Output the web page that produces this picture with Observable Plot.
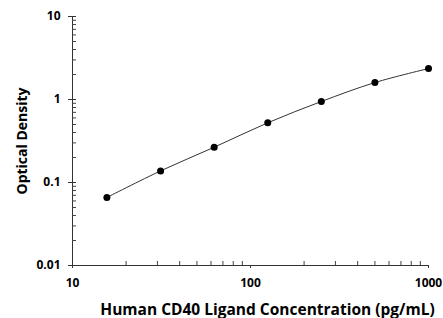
<!DOCTYPE html>
<html><head><meta charset="utf-8">
<script src="https://cdn.jsdelivr.net/npm/d3@7"></script>
<script src="https://cdn.jsdelivr.net/npm/@observablehq/plot@0.6"></script>
<style>
body{margin:0;background:#fff;}
svg{font-family:"Open Sans",sans-serif;}
</style>
</head><body><div id="chart"></div>
<script>
const concentration = [15.6, 31.25, 62.5, 125, 250, 500, 1000];
const opticalDensity = [0.066, 0.138, 0.266, 0.524, 0.946, 1.60, 2.36];
const xTicks = [10, 100, 1000];
const yTicks = [0.01, 0.1, 1, 10];
const xMinor = [20,30,40,50,60,70,80,90,200,300,400,500,600,700,800,900];
const yMinor = [0.02,0.03,0.04,0.05,0.06,0.07,0.08,0.09,0.2,0.3,0.4,0.5,0.6,0.7,0.8,0.9,2,3,4,5,6,7,8,9];
const data = concentration.map((c,i)=>({c, od: opticalDensity[i]}));

const W = 443, H = 318, ML = 72, MR = 15, MT = 16, MB = 53;
const chart = Plot.plot({
  width: W, height: H,
  marginLeft: ML, marginRight: MR, marginTop: MT, marginBottom: MB,
  x: {type: "log", domain: [10, 1000]},
  y: {type: "log", domain: [0.01, 10]},
  style: {fontFamily: "'Open Sans', sans-serif", fontSize: "12px", color: "#000"},
  marks: [
    Plot.ruleX([10], {y1: 0.01, y2: 10, stroke: "#333", strokeWidth: 1}),
    Plot.ruleY([0.01], {x1: 10, x2: 1000, stroke: "#333", strokeWidth: 1}),
    Plot.tickY(yMinor, {y: d => d, insetRight: W - ML - MR - 4, stroke: "#444", strokeWidth: 1}),
    Plot.tickY(yTicks, {y: d => d, insetRight: W - ML - MR - 4, stroke: "#333", strokeWidth: 1}),
    Plot.tickX(xMinor, {x: d => d, insetTop: H - MT - MB - 4, stroke: "#444", strokeWidth: 1}),
    Plot.axisY(yTicks, {tickSize: 4, tickPadding: 8, tickFormat: d => String(d), fontWeight: "bold", fontSize: 12, label: null, stroke: "#333"}),
    Plot.axisX(xTicks, {tickSize: 3, tickPadding: 10, tickFormat: d => String(d), fontWeight: "bold", fontSize: 12, label: null, stroke: "#333"}),
    Plot.line(data, {x: "c", y: "od", curve: "catmull-rom", stroke: "#333", strokeWidth: 1}),
    Plot.dot(data, {x: "c", y: "od", r: 3.5, fill: "#000", stroke: "none"}),
    Plot.text(["Optical Density"], {frameAnchor: "left", textAnchor: "middle", dx: -50, rotate: -90, fontWeight: "bold", fontSize: 14}),
    Plot.text(["Human CD40 Ligand Concentration (pg/mL)"], {frameAnchor: "bottom", lineAnchor: "bottom", dy: 49, dx: 17, fontWeight: "bold", fontSize: 15.5})
  ]
});
document.getElementById("chart").appendChild(chart);
</script>
</body></html>
